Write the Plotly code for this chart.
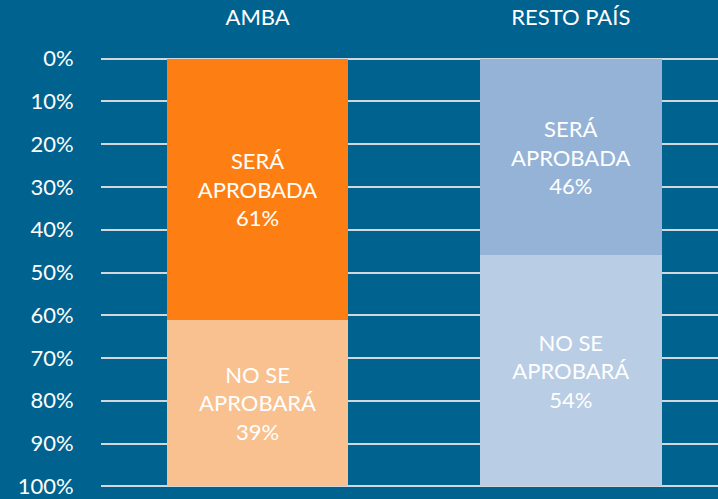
import plotly.graph_objects as go

categories = ["AMBA", "RESTO PAÍS"]
sera_aprobada = [61, 46]
no_se_aprobara = [39, 54]
sera_colors = ["#FD7F13", "#95B3D7"]
no_colors = ["#F9C18F", "#B9CDE5"]
y_ticks = list(range(0, 101, 10))

FONT = "Lato"
FS = 22

fig = go.Figure()
fig.add_trace(go.Bar(
    x=categories, y=sera_aprobada, marker_color=sera_colors, marker_line_width=0,
    text=[f"SERÁ<br>APROBADA<br>{v}%" for v in sera_aprobada],
    textposition="inside", insidetextanchor="middle",
    textfont=dict(color="white", size=FS, family=FONT), width=0.58,
    hoverinfo="skip"))
fig.add_trace(go.Bar(
    x=categories, y=no_se_aprobara, marker_color=no_colors, marker_line_width=0,
    text=[f"NO SE<br>APROBARÁ<br>{v}%" for v in no_se_aprobara],
    textposition="inside", insidetextanchor="middle",
    textfont=dict(color="white", size=FS, family=FONT), width=0.58,
    hoverinfo="skip"))

fig.update_layout(
    barmode="stack", width=718, height=499,
    paper_bgcolor="#00628F", plot_bgcolor="#00628F",
    margin=dict(l=101, r=0, t=57, b=8),
    showlegend=False, uniformtext=dict(mode=False),
    font=dict(family=FONT, color="white"),
    xaxis=dict(side="top", range=[-0.5, 1.47], showgrid=False, zeroline=False,
               showline=False, ticks="outside", ticklen=22, tickcolor="rgba(0,0,0,0)",
               tickfont=dict(size=FS, color="white")),
    yaxis=dict(range=[100.4, -0.4], tickvals=y_ticks, ticktext=[f"{v}%" for v in y_ticks],
               showgrid=True, gridcolor="#D3D6DA", gridwidth=2, zeroline=False,
               showline=False, ticks="outside", ticklen=22, tickcolor="rgba(0,0,0,0)",
               ticklabeloverflow="allow",
               tickfont=dict(size=FS, color="white")),
)
fig.write_html("out.html", config={"displayModeBar": False},
               post_script="document.body.style.margin='0';document.body.style.overflow='hidden';")
